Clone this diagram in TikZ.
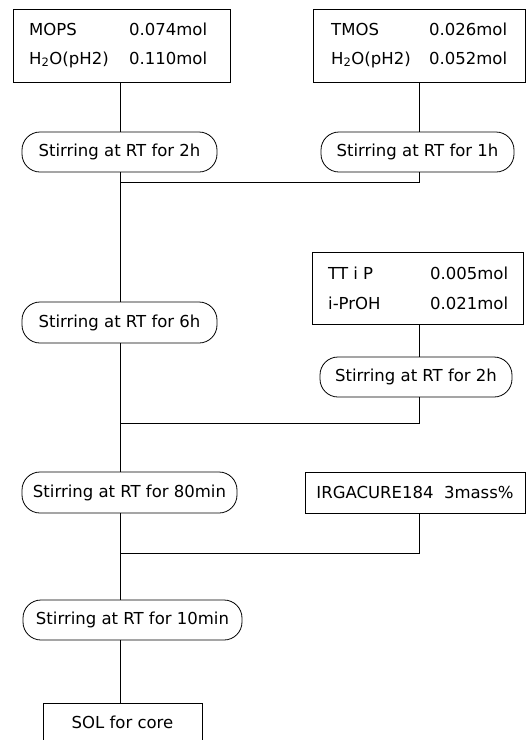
\documentclass[tikz,border=0pt]{standalone}
\usepackage{fontspec}
\setmainfont{DejaVu Sans}
\begin{document}
\begin{tikzpicture}[x=1pt,y=-1pt,
  box/.style={draw,line width=0.8pt,inner sep=0pt},
  stir/.style={draw,line width=0.8pt,rounded corners=18pt,inner sep=0pt,font=\fontsize{16.5}{18}\selectfont},
  lbl/.style={anchor=base west,inner sep=0pt,font=\fontsize{16.5}{18}\selectfont},
  conn/.style={line width=0.8pt}]
\useasboundingbox (0,0) rectangle (530,740);
\clip (0,0) rectangle (530,740);
\coordinate (xL) at (120,0);
\coordinate (xR) at (419,0);
\coordinate (j1) at (120,182);
\coordinate (j2) at (120,423);
\coordinate (j3) at (120,553);

% MOPS box
\node[box,minimum width=217pt,minimum height=73pt] (mops) at (121.5,45.5) {};
\node[lbl] (mopsA) at (29,35) {MOPS};
\node[lbl] (mopsB) at (129,35) {0.074mol};
\node[lbl] (mopsC) at (29,64) {H\textsubscript{2}O(pH2)};
\node[lbl] (mopsD) at (129,64) {0.110mol};

% TMOS box
\node[box,minimum width=212pt,minimum height=73pt] (tmos) at (419,45.5) {};
\node[lbl] (tmosA) at (331,35) {TMOS};
\node[lbl] (tmosB) at (429,35) {0.026mol};
\node[lbl] (tmosC) at (331,64) {H\textsubscript{2}O(pH2)};
\node[lbl] (tmosD) at (429,64) {0.052mol};

\node[stir,minimum width=195pt,minimum height=40pt] (s2a) at (119.5,152) {Stirring at RT for 2h};
\node[stir,minimum width=193pt,minimum height=40pt] (s1h) at (417.5,152) {Stirring at RT for 1h};

\node[stir,minimum width=195pt,minimum height=41pt] (s6h) at (119.5,322.5) {Stirring at RT for 6h};

% TTiP box
\node[box,minimum width=211pt,minimum height=72pt] (ttip) at (417.5,288) {};
\node[lbl] (ttipA) at (328,279) {TT i P};
\node[lbl] (ttipB) at (430,279) {0.005mol};
\node[lbl] (ttipC) at (328,309) {i-PrOH};
\node[lbl] (ttipD) at (430,309) {0.021mol};

\node[stir,minimum width=192pt,minimum height=40pt] (s2b) at (416,377) {Stirring at RT for 2h};

\node[stir,minimum width=215pt,minimum height=41pt] (s80) at (129.5,492.5) {Stirring at RT for 80min};
\node[box,minimum width=220pt,minimum height=41pt,font=\fontsize{16.5}{18}\selectfont] (irg) at (415,492.5) {IRGACURE184\ \ 3mass\%};

\node[stir,minimum width=219pt,minimum height=40pt] (s10) at (132.5,620) {Stirring at RT for 10min};

\node[box,minimum width=159pt,minimum height=67pt] (sol) at (122.5,736.5) {};
\node[anchor=base,inner sep=0pt,font=\fontsize{16.5}{18}\selectfont] (solT) at (122.5,728) {SOL for core};

% connectors
\draw[conn] (mops.south -| xL) -- (s2a.north -| xL);
\draw[conn] (s2a.south -| xL) -- (s6h.north -| xL);
\draw[conn] (tmos.south -| xR) -- (s1h.north -| xR);
\draw[conn] (s1h.south -| xR) |- (j1);
\draw[conn] (s6h.south -| xL) -- (s80.north -| xL);
\draw[conn] (ttip.south -| xR) -- (s2b.north -| xR);
\draw[conn] (s2b.south -| xR) |- (j2);
\draw[conn] (s80.south -| xL) -- (s10.north -| xL);
\draw[conn] (irg.south -| xR) |- (j3);
\draw[conn] (s10.south -| xL) -- (sol.north -| xL);
\end{tikzpicture}
\end{document}
